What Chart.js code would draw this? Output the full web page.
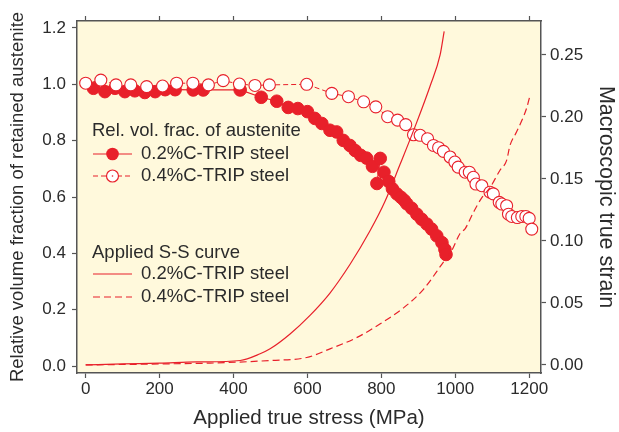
<!DOCTYPE html>
<html lang="en">
<head>
    <meta charset="UTF-8">
    <title>Retained austenite vs applied stress</title>
    <script src="https://cdn.jsdelivr.net/npm/chart.js"></script>
    <style>
        html, body { margin: 0; padding: 0; background: #fff; }
        #wrap { width: 619px; height: 432px; }
    </style>
</head>
<body>
    <div id="wrap"><canvas id="tripChart" width="619" height="432"></canvas></div>

    <script>
        // Relative volume fraction of retained austenite, 0.2%C-TRIP steel (stress MPa, fraction)
        const stress02 = [21, 52, 79, 106, 133, 160, 188, 215, 242, 291, 318, 418, 475, 517, 548, 574, 600, 620, 639, 661,
            679, 697, 715, 729, 744, 760, 776, 797, 788, 807, 820, 830, 842, 853, 862, 869, 882, 896, 909, 923,
            936, 950, 964, 972, 975];
        const frac02 = [0.986, 0.974, 0.986, 0.974, 0.977, 0.971, 0.974, 0.981, 0.981, 0.980, 0.980, 0.980, 0.954, 0.940, 0.918, 0.914, 0.903, 0.879, 0.861, 0.837,
            0.831, 0.801, 0.783, 0.765, 0.748, 0.738, 0.709, 0.737, 0.648, 0.688, 0.655, 0.629, 0.611, 0.599, 0.588, 0.576, 0.560, 0.539, 0.521, 0.504,
            0.486, 0.462, 0.438, 0.414, 0.396];

        // Relative volume fraction of retained austenite, 0.4%C-TRIP steel
        const stress04 = [0, 41, 82, 122, 165, 208, 246, 290, 332, 372, 416, 458, 497, 598, 666, 711, 752, 785, 817, 844,
            866, 887, 905, 925, 941, 955, 968, 986, 999, 1008, 1027, 1038, 1049, 1056, 1072, 1094, 1103, 1119, 1126, 1139,
            1144, 1153, 1168, 1180, 1191, 1200, 1207];
        const frac04 = [1.004, 1.015, 0.998, 0.998, 0.992, 0.994, 1.004, 1.004, 0.998, 1.013, 1.001, 0.996, 0.998, 1.000, 0.968, 0.956, 0.938, 0.920, 0.885, 0.873,
            0.857, 0.821, 0.819, 0.807, 0.783, 0.775, 0.762, 0.742, 0.724, 0.706, 0.688, 0.688, 0.670, 0.646, 0.640, 0.617, 0.611, 0.581, 0.575, 0.569,
            0.539, 0.531, 0.527, 0.531, 0.531, 0.524, 0.486];

        // Applied S-S curves (stress MPa, macroscopic true strain)
        const ssStress02 = [0, 100, 200, 300, 418, 472, 499, 553, 607, 661, 715, 769, 810, 851, 891, 932, 959, 970];
        const ssStrain02 = [0, 0.0008, 0.0015, 0.0024, 0.0036, 0.009, 0.013, 0.025, 0.040, 0.058, 0.081, 0.108, 0.132, 0.162, 0.192, 0.225, 0.250, 0.269];
        const ssStress04 = [0, 200, 337, 499, 598, 661, 733, 796, 860, 914, 968, 990, 1013, 1027, 1049, 1072, 1094, 1121, 1139, 1148, 1166, 1193, 1202];
        const ssStrain04 = [0, 0.0008, 0.0015, 0.0036, 0.006, 0.013, 0.022, 0.033, 0.046, 0.061, 0.083, 0.092, 0.106, 0.110, 0.123, 0.135, 0.143, 0.157, 0.165, 0.177, 0.188, 0.207, 0.217];

        const xTicks = [0, 200, 400, 600, 800, 1000, 1200];

        const RED = '#e8202a';
        const INK = '#2b2b2b';
        const AXIS = '#555555';
        const FONT = "'Liberation Sans', Arial, sans-serif";

        function toPoints(xs, ys) {
            return xs.map((x, i) => ({ x: x, y: ys[i] }));
        }

        // pale yellow plot background
        const plotBg = {
            id: 'plotBg',
            beforeDraw(chart) {
                const { ctx, chartArea: a } = chart;
                ctx.save();
                ctx.fillStyle = '#fff9dc';
                ctx.fillRect(a.left, a.top, a.right - a.left, a.bottom - a.top);
                ctx.restore();
            }
        };

        // legend drawn inside the plot like the original figure
        const inlineLegend = {
            id: 'inlineLegend',
            afterDatasetsDraw(chart) {
                const ctx = chart.ctx;
                ctx.save();
                ctx.font = '18.5px ' + FONT;
                ctx.fillStyle = INK;
                ctx.textBaseline = 'middle';
                ctx.textAlign = 'left';
                ctx.fillText('Rel. vol. frac. of austenite', 92, 131);
                ctx.fillText('0.2%C-TRIP steel', 141, 154);
                ctx.fillText('0.4%C-TRIP steel', 141, 176);
                ctx.fillText('Applied S-S curve', 92, 253);
                ctx.fillText('0.2%C-TRIP steel', 141, 274);
                ctx.fillText('0.4%C-TRIP steel', 141, 297);

                ctx.strokeStyle = RED;
                ctx.lineWidth = 1.2;
                const sample = (y, dash) => {
                    ctx.setLineDash(dash);
                    ctx.beginPath();
                    ctx.moveTo(93, y);
                    ctx.lineTo(132, y);
                    ctx.stroke();
                    ctx.setLineDash([]);
                };
                sample(154, []);
                sample(176, [5, 3]);
                sample(274, []);
                sample(297, [7, 4]);

                ctx.beginPath();
                ctx.arc(112.5, 154, 6.3, 0, Math.PI * 2);
                ctx.fillStyle = RED;
                ctx.fill();

                ctx.beginPath();
                ctx.arc(112.5, 176, 6, 0, Math.PI * 2);
                ctx.fillStyle = '#ffffff';
                ctx.fill();
                ctx.stroke();
                ctx.beginPath();
                ctx.arc(112.5, 176, 0.8, 0, Math.PI * 2);
                ctx.fillStyle = RED;
                ctx.fill();
                ctx.restore();
            }
        };

        const ctx = document.getElementById('tripChart').getContext('2d');
        new Chart(ctx, {
            type: 'scatter',
            data: {
                datasets: [
                    {
                        label: 'S-S 0.2%C',
                        data: toPoints(ssStress02, ssStrain02),
                        yAxisID: 'y2',
                        showLine: true,
                        borderColor: RED,
                        borderWidth: 1.2,
                        pointRadius: 0,
                        cubicInterpolationMode: 'monotone'
                    },
                    {
                        label: 'S-S 0.4%C',
                        data: toPoints(ssStress04, ssStrain04),
                        yAxisID: 'y2',
                        showLine: true,
                        borderColor: RED,
                        borderWidth: 1.2,
                        borderDash: [7, 4],
                        pointRadius: 0,
                        cubicInterpolationMode: 'monotone'
                    },
                    {
                        label: 'Austenite 0.4%C',
                        data: toPoints(stress04, frac04),
                        yAxisID: 'y',
                        showLine: true,
                        borderColor: RED,
                        borderWidth: 1,
                        borderDash: [5, 3],
                        pointRadius: 6,
                        pointBorderWidth: 1.1,
                        pointBackgroundColor: '#ffffff',
                        pointBorderColor: RED
                    },
                    {
                        // centre dot of the open circles
                        label: 'Austenite 0.4%C dots',
                        data: toPoints(stress04, frac04),
                        yAxisID: 'y',
                        showLine: false,
                        pointRadius: 0.8,
                        pointBorderWidth: 0,
                        pointBackgroundColor: RED
                    },
                    {
                        label: 'Austenite 0.2%C',
                        data: toPoints(stress02, frac02),
                        yAxisID: 'y',
                        showLine: true,
                        borderColor: RED,
                        borderWidth: 1.2,
                        pointRadius: 6.3,
                        pointBorderWidth: 1,
                        pointBackgroundColor: RED,
                        pointBorderColor: RED
                    }
                ]
            },
            options: {
                responsive: false,
                animation: false,
                layout: { padding: 0 },
                plugins: {
                    legend: { display: false },
                    tooltip: { enabled: false }
                },
                scales: {
                    x: {
                        type: 'linear',
                        position: 'bottom',
                        min: -23.5,
                        max: 1232,
                        afterBuildTicks: s => { s.ticks = xTicks.map(v => ({ value: v })); },
                        ticks: { color: INK, padding: 1, font: { family: FONT, size: 17 }, callback: v => String(v) },
                        grid: { drawOnChartArea: false, tickLength: 5, color: AXIS, tickWidth: 1.2 },
                        border: { color: AXIS, width: 1.5 },
                        title: {
                            display: true,
                            text: 'Applied true stress (MPa)',
                            color: INK,
                            font: { family: FONT, size: 20.5, lineHeight: 1.2 },
                            padding: { top: 0, bottom: 1 }
                        },
                        afterFit: s => { s.height = 59; }
                    },
                    xTop: {
                        type: 'linear',
                        position: 'top',
                        min: -23.5,
                        max: 1232,
                        afterBuildTicks: s => { s.ticks = xTicks.map(v => ({ value: v })); },
                        ticks: { display: false },
                        grid: { drawOnChartArea: false, tickLength: 5, color: AXIS, tickWidth: 1.2 },
                        border: { color: AXIS, width: 1.5 },
                        afterFit: s => { s.height = 21; }
                    },
                    y: {
                        type: 'linear',
                        position: 'left',
                        min: -0.0248,
                        max: 1.2248,
                        ticks: {
                            stepSize: 0.2,
                            includeBounds: false,
                            color: INK,
                            padding: 6,
                            font: { family: FONT, size: 17 },
                            callback: v => v.toFixed(1)
                        },
                        grid: { drawOnChartArea: false, tickLength: 5, color: AXIS, tickWidth: 1.2 },
                        border: { color: AXIS, width: 1.5 },
                        title: {
                            display: true,
                            text: 'Relative volume fraction of retained austenite',
                            color: INK,
                            font: { family: FONT, size: 18.5, lineHeight: 1.2 },
                            padding: { top: 7, bottom: 0 }
                        },
                        afterFit: s => { s.width = 77; }
                    },
                    y2: {
                        type: 'linear',
                        position: 'right',
                        min: -0.0065,
                        max: 0.2774,
                        ticks: {
                            stepSize: 0.05,
                            includeBounds: false,
                            color: INK,
                            padding: 4,
                            font: { family: FONT, size: 17 },
                            callback: v => v.toFixed(2)
                        },
                        grid: { drawOnChartArea: false, tickLength: 5, color: AXIS, tickWidth: 1.2 },
                        border: { color: AXIS, width: 1.5 },
                        title: {
                            display: true,
                            text: 'Macroscopic true strain',
                            color: INK,
                            font: { family: FONT, size: 21.5, lineHeight: 1.2 },
                            padding: { top: 0, bottom: 0 }
                        },
                        afterFit: s => { s.width = 78; }
                    }
                }
            },
            plugins: [plotBg, inlineLegend]
        });
    </script>
</body>
</html>
